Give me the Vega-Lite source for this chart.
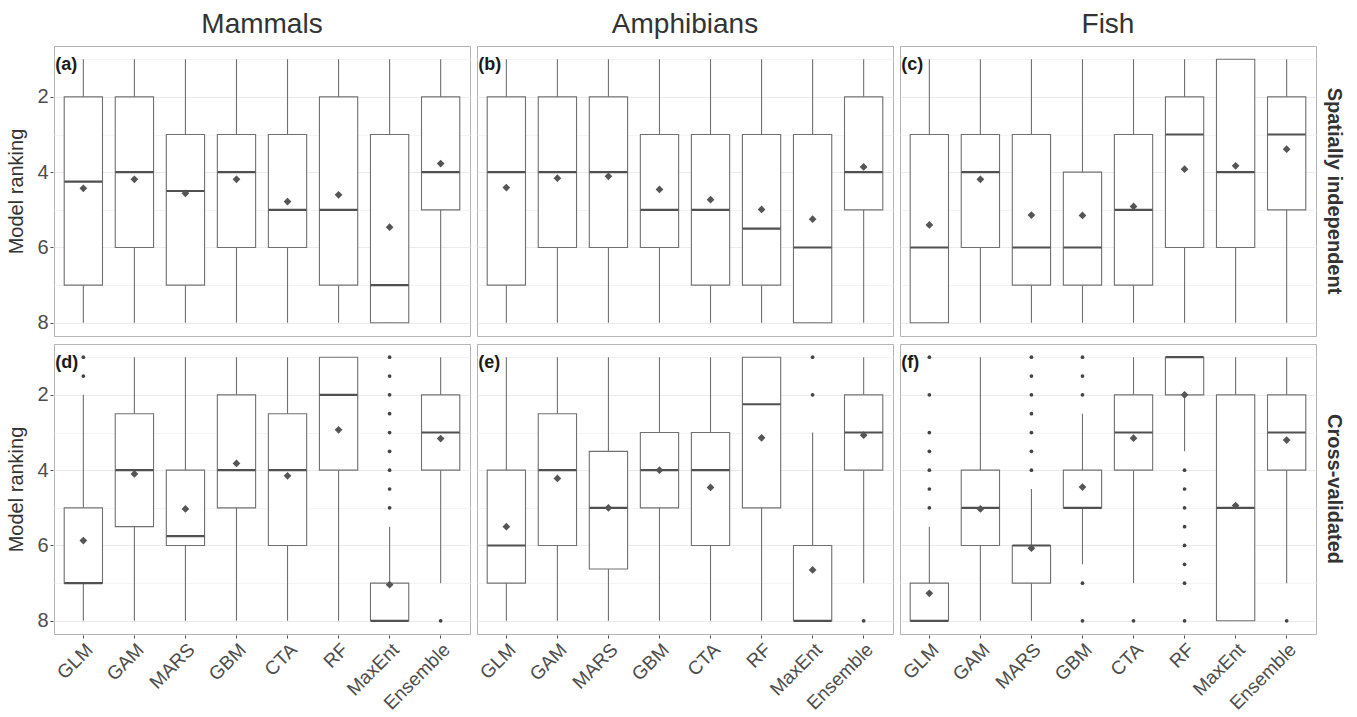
{
  "$schema": "https://vega.github.io/schema/vega-lite/v6.json",
  "background": "white",
  "padding": {"left": 6, "top": 11, "right": 5, "bottom": 5},
  "datasets": {
    "d": [
      {"kind":"box","t":"Mammals","v":"Spatially independent","m":"GLM","lo":1,"q1":2,"med":4.25,"q3":7,"hi":8,"mean":4.43},
      {"kind":"box","t":"Mammals","v":"Spatially independent","m":"GAM","lo":1,"q1":2,"med":4,"q3":6,"hi":8,"mean":4.19},
      {"kind":"box","t":"Mammals","v":"Spatially independent","m":"MARS","lo":1,"q1":3,"med":4.5,"q3":7,"hi":8,"mean":4.56},
      {"kind":"box","t":"Mammals","v":"Spatially independent","m":"GBM","lo":1,"q1":3,"med":4,"q3":6,"hi":8,"mean":4.19},
      {"kind":"box","t":"Mammals","v":"Spatially independent","m":"CTA","lo":1,"q1":3,"med":5,"q3":6,"hi":8,"mean":4.78},
      {"kind":"box","t":"Mammals","v":"Spatially independent","m":"RF","lo":1,"q1":2,"med":5,"q3":7,"hi":8,"mean":4.6},
      {"kind":"box","t":"Mammals","v":"Spatially independent","m":"MaxEnt","lo":1,"q1":3,"med":7,"q3":8,"hi":8,"mean":5.46},
      {"kind":"box","t":"Mammals","v":"Spatially independent","m":"Ensemble","lo":1,"q1":2,"med":4,"q3":5,"hi":8,"mean":3.77},

      {"kind":"box","t":"Amphibians","v":"Spatially independent","m":"GLM","lo":1,"q1":2,"med":4,"q3":7,"hi":8,"mean":4.41},
      {"kind":"box","t":"Amphibians","v":"Spatially independent","m":"GAM","lo":1,"q1":2,"med":4,"q3":6,"hi":8,"mean":4.16},
      {"kind":"box","t":"Amphibians","v":"Spatially independent","m":"MARS","lo":1,"q1":2,"med":4,"q3":6,"hi":8,"mean":4.11},
      {"kind":"box","t":"Amphibians","v":"Spatially independent","m":"GBM","lo":1,"q1":3,"med":5,"q3":6,"hi":8,"mean":4.46},
      {"kind":"box","t":"Amphibians","v":"Spatially independent","m":"CTA","lo":1,"q1":3,"med":5,"q3":7,"hi":8,"mean":4.73},
      {"kind":"box","t":"Amphibians","v":"Spatially independent","m":"RF","lo":1,"q1":3,"med":5.5,"q3":7,"hi":8,"mean":4.99},
      {"kind":"box","t":"Amphibians","v":"Spatially independent","m":"MaxEnt","lo":1,"q1":3,"med":6,"q3":8,"hi":8,"mean":5.25},
      {"kind":"box","t":"Amphibians","v":"Spatially independent","m":"Ensemble","lo":1,"q1":2,"med":4,"q3":5,"hi":8,"mean":3.86},

      {"kind":"box","t":"Fish","v":"Spatially independent","m":"GLM","lo":1,"q1":3,"med":6,"q3":8,"hi":8,"mean":5.4},
      {"kind":"box","t":"Fish","v":"Spatially independent","m":"GAM","lo":1,"q1":3,"med":4,"q3":6,"hi":8,"mean":4.19},
      {"kind":"box","t":"Fish","v":"Spatially independent","m":"MARS","lo":1,"q1":3,"med":6,"q3":7,"hi":8,"mean":5.14},
      {"kind":"box","t":"Fish","v":"Spatially independent","m":"GBM","lo":1,"q1":4,"med":6,"q3":7,"hi":8,"mean":5.15},
      {"kind":"box","t":"Fish","v":"Spatially independent","m":"CTA","lo":1,"q1":3,"med":5,"q3":7,"hi":8,"mean":4.91},
      {"kind":"box","t":"Fish","v":"Spatially independent","m":"RF","lo":1,"q1":2,"med":3,"q3":6,"hi":8,"mean":3.92},
      {"kind":"box","t":"Fish","v":"Spatially independent","m":"MaxEnt","lo":1,"q1":1,"med":4,"q3":6,"hi":8,"mean":3.83},
      {"kind":"box","t":"Fish","v":"Spatially independent","m":"Ensemble","lo":1,"q1":2,"med":3,"q3":5,"hi":8,"mean":3.39},

      {"kind":"box","t":"Mammals","v":"Cross-validated","m":"GLM","lo":2,"q1":5,"med":7,"q3":7,"hi":8,"mean":5.87},
      {"kind":"box","t":"Mammals","v":"Cross-validated","m":"GAM","lo":1,"q1":2.5,"med":4,"q3":5.5,"hi":8,"mean":4.1},
      {"kind":"box","t":"Mammals","v":"Cross-validated","m":"MARS","lo":1,"q1":4,"med":5.75,"q3":6,"hi":8,"mean":5.03},
      {"kind":"box","t":"Mammals","v":"Cross-validated","m":"GBM","lo":1,"q1":2,"med":4,"q3":5,"hi":8,"mean":3.82},
      {"kind":"box","t":"Mammals","v":"Cross-validated","m":"CTA","lo":1,"q1":2.5,"med":4,"q3":6,"hi":8,"mean":4.15},
      {"kind":"box","t":"Mammals","v":"Cross-validated","m":"RF","lo":1,"q1":1,"med":2,"q3":4,"hi":8,"mean":2.93},
      {"kind":"box","t":"Mammals","v":"Cross-validated","m":"MaxEnt","lo":5.5,"q1":7,"med":8,"q3":8,"hi":8,"mean":7.04},
      {"kind":"box","t":"Mammals","v":"Cross-validated","m":"Ensemble","lo":1,"q1":2,"med":3,"q3":4,"hi":7,"mean":3.16},

      {"kind":"box","t":"Amphibians","v":"Cross-validated","m":"GLM","lo":1,"q1":4,"med":6,"q3":7,"hi":8,"mean":5.5},
      {"kind":"box","t":"Amphibians","v":"Cross-validated","m":"GAM","lo":1,"q1":2.5,"med":4,"q3":6,"hi":8,"mean":4.22},
      {"kind":"box","t":"Amphibians","v":"Cross-validated","m":"MARS","lo":1,"q1":3.5,"med":5,"q3":6.625,"hi":8,"mean":5.0},
      {"kind":"box","t":"Amphibians","v":"Cross-validated","m":"GBM","lo":1,"q1":3,"med":4,"q3":5,"hi":8,"mean":4.0},
      {"kind":"box","t":"Amphibians","v":"Cross-validated","m":"CTA","lo":1,"q1":3,"med":4,"q3":6,"hi":8,"mean":4.46},
      {"kind":"box","t":"Amphibians","v":"Cross-validated","m":"RF","lo":1,"q1":1,"med":2.25,"q3":5,"hi":8,"mean":3.14},
      {"kind":"box","t":"Amphibians","v":"Cross-validated","m":"MaxEnt","lo":3,"q1":6,"med":8,"q3":8,"hi":8,"mean":6.65},
      {"kind":"box","t":"Amphibians","v":"Cross-validated","m":"Ensemble","lo":1,"q1":2,"med":3,"q3":4,"hi":7,"mean":3.07},

      {"kind":"box","t":"Fish","v":"Cross-validated","m":"GLM","lo":5.5,"q1":7,"med":8,"q3":8,"hi":8,"mean":7.27},
      {"kind":"box","t":"Fish","v":"Cross-validated","m":"GAM","lo":1,"q1":4,"med":5,"q3":6,"hi":8,"mean":5.03},
      {"kind":"box","t":"Fish","v":"Cross-validated","m":"MARS","lo":4.5,"q1":6,"med":6,"q3":7,"hi":8,"mean":6.07},
      {"kind":"box","t":"Fish","v":"Cross-validated","m":"GBM","lo":2.5,"q1":4,"med":5,"q3":5,"hi":6.5,"mean":4.45},
      {"kind":"box","t":"Fish","v":"Cross-validated","m":"CTA","lo":1,"q1":2,"med":3,"q3":4,"hi":7,"mean":3.15},
      {"kind":"box","t":"Fish","v":"Cross-validated","m":"RF","lo":1,"q1":1,"med":1,"q3":2,"hi":3.5,"mean":2.0},
      {"kind":"box","t":"Fish","v":"Cross-validated","m":"MaxEnt","lo":1,"q1":2,"med":5,"q3":8,"hi":8,"mean":4.94},
      {"kind":"box","t":"Fish","v":"Cross-validated","m":"Ensemble","lo":1,"q1":2,"med":3,"q3":4,"hi":7,"mean":3.2},

      {"kind":"out","t":"Mammals","v":"Cross-validated","m":"GLM","val":1},
      {"kind":"out","t":"Mammals","v":"Cross-validated","m":"GLM","val":1.5},
      {"kind":"out","t":"Mammals","v":"Cross-validated","m":"MaxEnt","val":1},
      {"kind":"out","t":"Mammals","v":"Cross-validated","m":"MaxEnt","val":1.5},
      {"kind":"out","t":"Mammals","v":"Cross-validated","m":"MaxEnt","val":2},
      {"kind":"out","t":"Mammals","v":"Cross-validated","m":"MaxEnt","val":2.5},
      {"kind":"out","t":"Mammals","v":"Cross-validated","m":"MaxEnt","val":3},
      {"kind":"out","t":"Mammals","v":"Cross-validated","m":"MaxEnt","val":3.5},
      {"kind":"out","t":"Mammals","v":"Cross-validated","m":"MaxEnt","val":4},
      {"kind":"out","t":"Mammals","v":"Cross-validated","m":"MaxEnt","val":4.5},
      {"kind":"out","t":"Mammals","v":"Cross-validated","m":"MaxEnt","val":5},
      {"kind":"out","t":"Mammals","v":"Cross-validated","m":"Ensemble","val":8},

      {"kind":"out","t":"Amphibians","v":"Cross-validated","m":"MaxEnt","val":1},
      {"kind":"out","t":"Amphibians","v":"Cross-validated","m":"MaxEnt","val":2},
      {"kind":"out","t":"Amphibians","v":"Cross-validated","m":"Ensemble","val":8},

      {"kind":"out","t":"Fish","v":"Cross-validated","m":"GLM","val":1},
      {"kind":"out","t":"Fish","v":"Cross-validated","m":"GLM","val":2},
      {"kind":"out","t":"Fish","v":"Cross-validated","m":"GLM","val":3},
      {"kind":"out","t":"Fish","v":"Cross-validated","m":"GLM","val":3.5},
      {"kind":"out","t":"Fish","v":"Cross-validated","m":"GLM","val":4},
      {"kind":"out","t":"Fish","v":"Cross-validated","m":"GLM","val":4.5},
      {"kind":"out","t":"Fish","v":"Cross-validated","m":"GLM","val":5},
      {"kind":"out","t":"Fish","v":"Cross-validated","m":"MARS","val":1},
      {"kind":"out","t":"Fish","v":"Cross-validated","m":"MARS","val":1.5},
      {"kind":"out","t":"Fish","v":"Cross-validated","m":"MARS","val":2},
      {"kind":"out","t":"Fish","v":"Cross-validated","m":"MARS","val":2.5},
      {"kind":"out","t":"Fish","v":"Cross-validated","m":"MARS","val":3},
      {"kind":"out","t":"Fish","v":"Cross-validated","m":"MARS","val":3.5},
      {"kind":"out","t":"Fish","v":"Cross-validated","m":"MARS","val":4},
      {"kind":"out","t":"Fish","v":"Cross-validated","m":"GBM","val":1},
      {"kind":"out","t":"Fish","v":"Cross-validated","m":"GBM","val":1.5},
      {"kind":"out","t":"Fish","v":"Cross-validated","m":"GBM","val":2},
      {"kind":"out","t":"Fish","v":"Cross-validated","m":"GBM","val":7},
      {"kind":"out","t":"Fish","v":"Cross-validated","m":"GBM","val":8},
      {"kind":"out","t":"Fish","v":"Cross-validated","m":"CTA","val":8},
      {"kind":"out","t":"Fish","v":"Cross-validated","m":"RF","val":4},
      {"kind":"out","t":"Fish","v":"Cross-validated","m":"RF","val":4.5},
      {"kind":"out","t":"Fish","v":"Cross-validated","m":"RF","val":5},
      {"kind":"out","t":"Fish","v":"Cross-validated","m":"RF","val":5.5},
      {"kind":"out","t":"Fish","v":"Cross-validated","m":"RF","val":6},
      {"kind":"out","t":"Fish","v":"Cross-validated","m":"RF","val":6.5},
      {"kind":"out","t":"Fish","v":"Cross-validated","m":"RF","val":7},
      {"kind":"out","t":"Fish","v":"Cross-validated","m":"RF","val":8},
      {"kind":"out","t":"Fish","v":"Cross-validated","m":"Ensemble","val":8},

      {"kind":"label","t":"Mammals","v":"Spatially independent","label":"(a)"},
      {"kind":"label","t":"Amphibians","v":"Spatially independent","label":"(b)"},
      {"kind":"label","t":"Fish","v":"Spatially independent","label":"(c)"},
      {"kind":"label","t":"Mammals","v":"Cross-validated","label":"(d)"},
      {"kind":"label","t":"Amphibians","v":"Cross-validated","label":"(e)"},
      {"kind":"label","t":"Fish","v":"Cross-validated","label":"(f)"}
    ]
  },
  "data": {"name": "d"},
  "facet": {
    "column": {"field": "t", "type": "nominal", "sort": ["Mammals","Amphibians","Fish"], "title": null,
      "header": {"labelFontSize": 28, "labelColor": "#333333", "labelFont": "Liberation Sans", "labelPadding": 6}},
    "row": {"field": "v", "type": "nominal", "sort": ["Spatially independent","Cross-validated"], "title": null,
      "header": {"labelOrient": "right", "labelAngle": 90, "labelFontSize": 20, "labelFontWeight": "bold", "labelColor": "#333333", "labelFont": "Liberation Sans", "labelPadding": 7}}
  },
  "spacing": {"row": 6, "column": 5},
  "spec": {
    "width": 416,
    "height": 290,
    "encoding": {
      "x": {"field": "m", "type": "nominal", "sort": ["GLM","GAM","MARS","GBM","CTA","RF","MaxEnt","Ensemble"],
        "scale": {"paddingInner": 0.25, "paddingOuter": 0.2}, "axis": {"title": null}}
    },
    "layer": [
      {
        "transform": [{"filter": "datum.kind === 'box'"}],
        "mark": {"type": "rule", "color": "#707070", "strokeWidth": 1.1},
        "encoding": {
          "y": {"field": "lo", "type": "quantitative",
            "scale": {"domain": [0.65, 8.35], "reverse": true, "nice": false, "zero": false},
            "axis": {"title": "Model ranking", "values": [1,2,3,4,5,6,7,8],
              "labelExpr": "datum.value % 2 === 0 ? datum.label : ''",
              "tickOpacity": {"condition": {"test": "datum.value % 2 === 0", "value": 1}, "value": 0},
              "gridColor": {"condition": {"test": "datum.value % 2 === 0", "value": "#ebebeb"}, "value": "#f4f4f4"}}},
          "y2": {"field": "hi"}
        }
      },
      {
        "transform": [{"filter": "datum.kind === 'box'"}],
        "mark": {"type": "bar", "fill": "white", "stroke": "#707070", "strokeWidth": 1.1},
        "encoding": {
          "y": {"field": "q1", "type": "quantitative"},
          "y2": {"field": "q3"}
        }
      },
      {
        "transform": [{"filter": "datum.kind === 'box'"}],
        "mark": {"type": "tick", "color": "#505050", "thickness": 2.2, "size": 38, "opacity": 1},
        "encoding": {
          "y": {"field": "med", "type": "quantitative"}
        }
      },
      {
        "transform": [{"filter": "datum.kind === 'box'"}],
        "mark": {"type": "point", "shape": "diamond", "filled": true, "color": "#555555", "size": 60, "opacity": 1},
        "encoding": {
          "y": {"field": "mean", "type": "quantitative"}
        }
      },
      {
        "transform": [{"filter": "datum.kind === 'out'"}],
        "mark": {"type": "point", "shape": "circle", "filled": true, "color": "#444444", "size": 14, "opacity": 1},
        "encoding": {
          "y": {"field": "val", "type": "quantitative"}
        }
      },
      {
        "transform": [{"filter": "datum.kind === 'label'"}],
        "mark": {"type": "text", "align": "left", "baseline": "middle", "dx": -28, "fontSize": 18, "fontWeight": "bold", "font": "Liberation Sans", "color": "#1a1a1a"},
        "encoding": {
          "x": {"datum": "GLM"},
          "y": {"datum": 1.15},
          "text": {"field": "label"}
        }
      }
    ]
  },
  "config": {
    "font": "Liberation Sans",
    "view": {"stroke": "#b3b3b3", "strokeWidth": 1, "fill": "white"},
    "axis": {
      "labelFont": "Liberation Sans", "labelFontSize": 19, "labelColor": "#4d4d4d",
      "titleFont": "Liberation Sans", "titleFontSize": 20, "titleFontWeight": "normal", "titleColor": "#333333",
      "domain": false, "tickColor": "#4d4d4d", "tickSize": 3, "labelPadding": 2
    },
    "axisX": {"grid": false, "labelAngle": -45, "labelAlign": "right", "labelBaseline": "top", "labelFontSize": 19},
    "axisY": {"grid": true, "titlePadding": 10, "labelFontSize": 20}
  }
}
